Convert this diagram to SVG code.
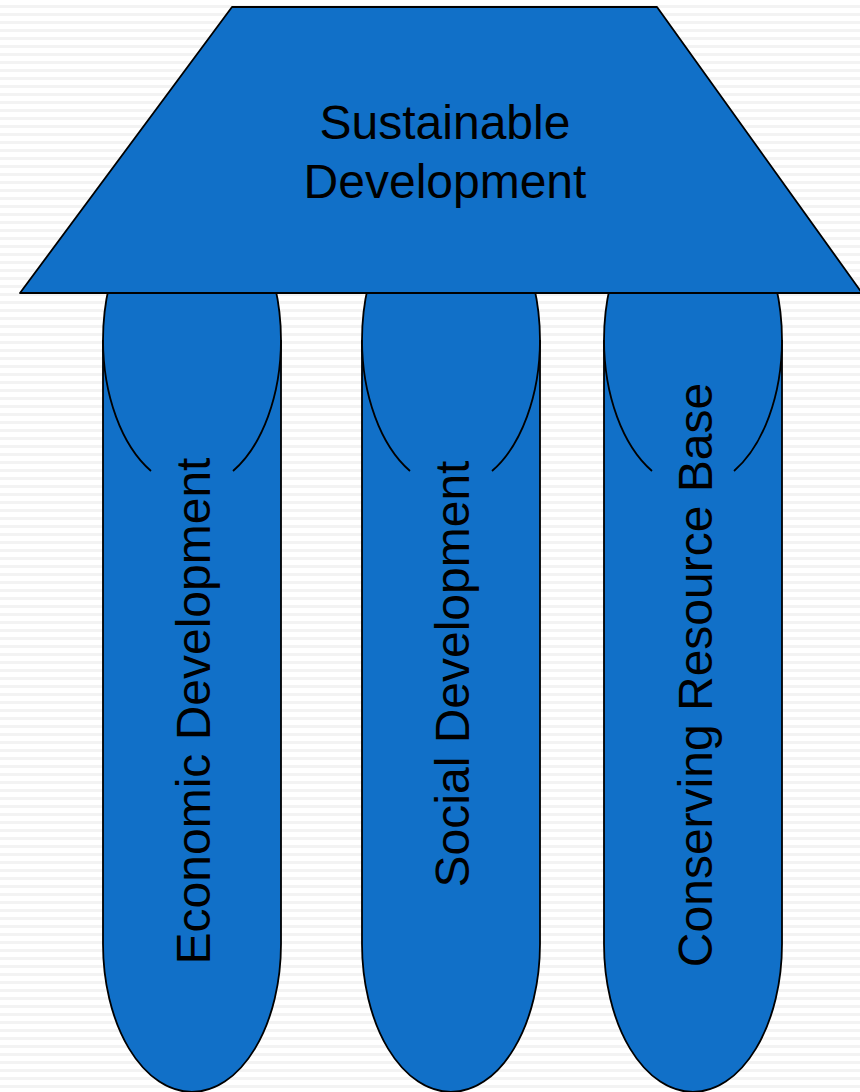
<svg xmlns="http://www.w3.org/2000/svg" width="860" height="1092" viewBox="0 0 860 1092">
<defs>
<pattern id="stripes" x="0" y="0" width="8" height="8" patternUnits="userSpaceOnUse">
<rect x="0" y="0" width="8" height="8" fill="#ffffff"/>
<rect x="0" y="5" width="8" height="3" fill="#f3f3f3"/>
</pattern>
</defs>
<style>
.shape{fill:#1170c8;stroke:#000;stroke-width:1.8;stroke-linejoin:round}
.arc{fill:none;stroke:#000;stroke-width:1.8}
.lbl{font-family:"Liberation Sans",Arial,sans-serif;font-size:48px;fill:#000;text-anchor:middle}
</style>
<rect x="0" y="0" width="860" height="1092" fill="url(#stripes)"/>
<g id="connectors"/>
<g id="pillar-economic">
<path class="shape" d="M103,340 A89,148 0 0 1 281,340 L281,944 A89,148 0 0 1 103,944 Z"/>
<path class="arc" d="M103,340 A89,148 0 0 0 151,471 M233,471 A89,148 0 0 0 281,340"/>
<text class="lbl" transform="translate(210,711) rotate(-90)">Economic Development</text>
</g>
<g id="pillar-social">
<path class="shape" d="M362,340 A89,148 0 0 1 540,340 L540,944 A89,148 0 0 1 362,944 Z"/>
<path class="arc" d="M362,340 A89,148 0 0 0 410,471 M492,471 A89,148 0 0 0 540,340"/>
<text class="lbl" transform="translate(469,674) rotate(-90)">Social Development</text>
</g>
<g id="pillar-resource">
<path class="shape" d="M604,340 A89,148 0 0 1 782,340 L782,944 A89,148 0 0 1 604,944 Z"/>
<path class="arc" d="M604,340 A89,148 0 0 0 652,471 M734,471 A89,148 0 0 0 782,340"/>
<text class="lbl" transform="translate(712,675) rotate(-90)">Conserving Resource Base</text>
</g>
<g id="roof-sustainable">
<path class="shape" d="M232,7 L657,7 L862,293 L20,293 Z"/>
<text class="lbl" x="445" y="139">Sustainable</text>
<text class="lbl" x="445" y="198">Development</text>
</g>
</svg>
